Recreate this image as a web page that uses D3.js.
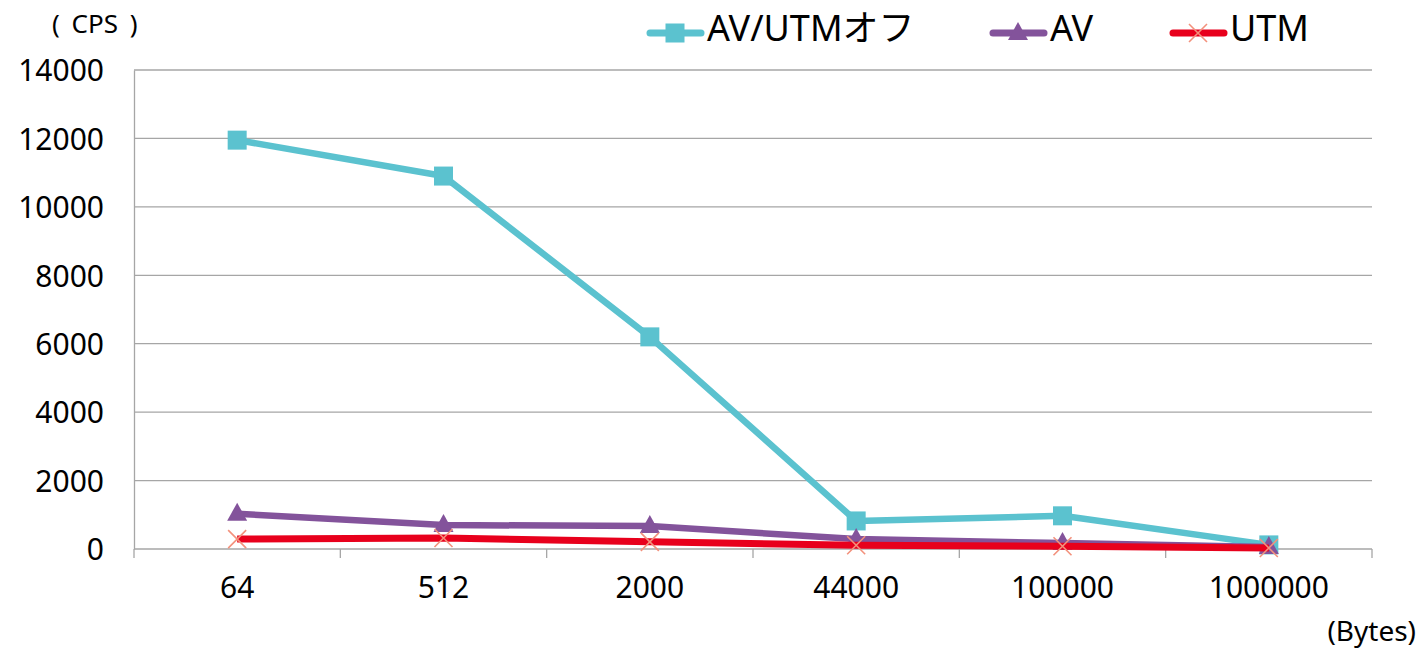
<!DOCTYPE html>
<html>
<head>
<meta charset="utf-8">
<script src="https://cdn.jsdelivr.net/npm/d3@7"></script>
<style>
  html, body { margin: 0; padding: 0; background: #fff; }
  svg text { font-family: "Noto Sans", "Noto Sans CJK JP", sans-serif; fill: #000; }
</style>
</head>
<body>
<svg id="chart" width="1422" height="650"></svg>
<script>
// Message size categories (bytes)
const sizes = ["64", "512", "2000", "44000", "100000", "1000000"];
// Connections per second for each configuration
const offValues = [11950, 10900, 6200, 820, 970, 120];
const avValues  = [1030, 700, 670, 290, 175, 60];
const utmValues = [290, 320, 210, 110, 80, 30];
const yTicks = [0, 2000, 4000, 6000, 8000, 10000, 12000, 14000];
const seriesNames = ["AV/UTMオフ", "AV", "UTM"];

const svg = d3.select("#chart");
const plotLeft = 134, plotRight = 1372, plotTop = 70, plotBottom = 549;

const x = d3.scaleBand().domain(sizes).range([plotLeft, plotRight]).padding(0);
const y = d3.scaleLinear().domain([0, 14000]).range([plotBottom, plotTop]);
const cx = d => x(d) + x.bandwidth() / 2;

const gridColor = "#a6a6a6";

// horizontal gridlines
svg.append("g")
  .selectAll("line")
  .data(yTicks.filter(t => t > 0))
  .join("line")
  .attr("x1", plotLeft).attr("x2", plotRight)
  .attr("y1", d => y(d)).attr("y2", d => y(d))
  .attr("stroke", gridColor).attr("stroke-width", 1.3);

// y axis
const yAxis = svg.append("g").attr("transform", `translate(${plotLeft},0)`)
  .call(d3.axisLeft(y).tickValues(yTicks).tickSize(0).tickPadding(30).tickFormat(d3.format("d")));
yAxis.select(".domain").attr("stroke", gridColor).attr("stroke-width", 1.3);
yAxis.selectAll("text").style("font-size", "30px").attr("dy", "0.36em");

// x axis with ticks at category boundaries
const xAxis = svg.append("g").attr("transform", `translate(0,${plotBottom})`);
xAxis.append("line").attr("x1", plotLeft).attr("x2", plotRight).attr("y1", 0).attr("y2", 0)
  .attr("stroke", gridColor).attr("stroke-width", 1.3);
const boundaries = sizes.map(d => x(d)).concat([plotRight]);
xAxis.selectAll("line.tick").data(boundaries).join("line").attr("class", "tick")
  .attr("x1", d => d).attr("x2", d => d).attr("y1", 0).attr("y2", 9)
  .attr("stroke", gridColor).attr("stroke-width", 1.3);
xAxis.selectAll("text").data(sizes).join("text")
  .attr("x", d => cx(d)).attr("y", 49)
  .attr("text-anchor", "middle").style("font-size", "30px").text(d => d);

// unit labels
svg.append("text").attr("x", 52).attr("y", 33).style("font-size", "26px")
  .style("word-spacing", "5px").text("( CPS )");
svg.append("text").attr("x", 1416).attr("y", 641).attr("text-anchor", "end").style("font-size", "28px").text("(Bytes)");

const colors = ["#5bc2cf", "#83539b", "#e8001c"];
const markerColors = ["#5bc2cf", "#83539b", "#f3917c"];
const allValues = [offValues, avValues, utmValues];

function drawMarker(g, kind, px, py, i) {
  if (kind === 0) {
    g.append("rect").attr("x", px - 9.5).attr("y", py - 9.5).attr("width", 19).attr("height", 19)
      .attr("fill", markerColors[i]);
  } else if (kind === 1) {
    g.append("path").attr("d", `M${px},${py - 11}L${px + 10},${py + 7}L${px - 10},${py + 7}Z`)
      .attr("fill", markerColors[i]);
  } else {
    g.append("path").attr("d", `M${px - 9},${py - 9}L${px + 9},${py + 9}M${px + 9},${py - 9}L${px - 9},${py + 9}`)
      .attr("stroke", markerColors[i]).attr("stroke-width", 1.6).attr("fill", "none");
  }
}

const line = d3.line().x((d, j) => cx(sizes[j])).y(d => y(d));

allValues.forEach((vals, i) => {
  const g = svg.append("g");
  g.append("path").datum(vals).attr("d", line)
    .attr("fill", "none").attr("stroke", colors[i])
    .attr("stroke-width", i === 2 ? 7 : 6.5).attr("stroke-linejoin", "round");
  vals.forEach((v, j) => drawMarker(g, i, cx(sizes[j]), y(v), i));
});

// legend
const legendX = [647, 990, 1170];
const legendY = 33;
seriesNames.forEach((name, i) => {
  const g = svg.append("g");
  const x0 = legendX[i];
  g.append("line").attr("x1", x0 + 3).attr("x2", x0 + 54).attr("y1", legendY).attr("y2", legendY)
    .attr("stroke", colors[i]).attr("stroke-width", 7).attr("stroke-linecap", "round");
  drawMarker(g, i, x0 + 28, legendY, i);
  g.append("text").attr("x", x0 + 60).attr("y", legendY + 8).style("font-size", "36px").text(name);
});
</script>
</body>
</html>
